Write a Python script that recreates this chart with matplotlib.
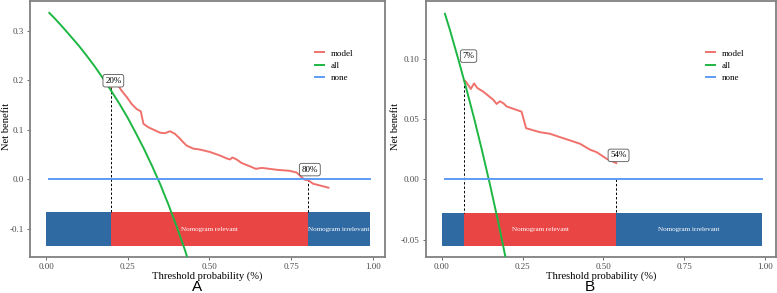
import numpy as np
import matplotlib
matplotlib.use("Agg")
import matplotlib.pyplot as plt
from matplotlib.patches import Rectangle

plt.rcParams['font.family'] = ['Liberation Serif', 'DejaVu Serif']

# ---- panel A data ----
a_all_x = [0.01, 0.025, 0.05, 0.075, 0.10, 0.125, 0.15, 0.175, 0.20, 0.225, 0.25,
           0.275, 0.30, 0.325, 0.35, 0.375, 0.40, 0.425, 0.45]
a_all_y = [0.336, 0.326, 0.308, 0.289, 0.270, 0.249, 0.227, 0.203, 0.178, 0.152, 0.124,
           0.093, 0.061, 0.026, -0.011, -0.052, -0.096, -0.143, -0.195]
a_model_x = [0.200, 0.206, 0.221, 0.231, 0.247, 0.262, 0.277, 0.290, 0.298, 0.313, 0.339,
             0.349, 0.364, 0.379, 0.394, 0.410, 0.415, 0.430, 0.450, 0.471, 0.502, 0.532,
             0.553, 0.563, 0.570, 0.583, 0.598, 0.624, 0.642, 0.660, 0.708, 0.746, 0.767,
             0.782, 0.792, 0.802, 0.817, 0.864]
a_model_y = [0.186, 0.192, 0.189, 0.179, 0.166, 0.152, 0.142, 0.137, 0.112, 0.105, 0.097,
             0.094, 0.093, 0.097, 0.092, 0.082, 0.078, 0.068, 0.062, 0.060, 0.055, 0.048,
             0.042, 0.040, 0.044, 0.040, 0.033, 0.026, 0.021, 0.023, 0.019, 0.017, 0.0135,
             0.004, -0.001, -0.002, -0.009, -0.017]
a_low, a_high = 0.20, 0.80
a_low_y, a_high_y = 0.186, 0.0
a_labels = ["20%", "80%"]
a_label_pos = [(0.206, 0.199), (0.807, 0.0195)]

# ---- panel B data ----
b_all_x = [0.01, 0.025, 0.05, 0.075, 0.10, 0.125, 0.15, 0.175, 0.20, 0.225]
b_all_y = [0.137, 0.124, 0.1006, 0.0763, 0.0507, 0.0235, -0.0052, -0.0356, -0.068, -0.102]
b_model_x = [0.070, 0.072, 0.077, 0.090, 0.100, 0.110, 0.129, 0.160, 0.170, 0.180, 0.191,
             0.201, 0.247, 0.261, 0.304, 0.335, 0.366, 0.397, 0.428, 0.459, 0.479, 0.510,
             0.526, 0.540]
b_model_y = [0.0815, 0.0816, 0.0800, 0.0748, 0.0794, 0.0756, 0.0725, 0.0657, 0.0624, 0.0646,
             0.0629, 0.0603, 0.0560, 0.0423, 0.0390, 0.0377, 0.0349, 0.0322, 0.0294, 0.0245,
             0.0225, 0.0170, 0.0151, 0.0134]
b_low, b_high = 0.07, 0.54
b_low_y, b_high_y = 0.0815, 0.0
b_labels = ["7%", "54%"]
b_label_pos = [(0.083, 0.102), (0.547, 0.0198)]

none_x = [0.01, 0.99]
none_y = [0.0, 0.0]

C_MODEL = '#F0716C'
C_ALL = '#1DB743'
C_NONE = '#5D9BF5'
C_BLUE = '#2F6AA3'
C_RED = '#EA4545'
C_FRAME = '#808080'


def panel(ax, all_x, all_y, mx, my, low, high, low_y, high_y, labels, lpos,
          band, xlim, ylim, yticks, yfmt, leg_x, ylab_x):
    b0, b1 = band
    ax.add_patch(Rectangle((0, b0), 0.99, b1 - b0, color=C_BLUE, lw=0, zorder=1))
    ax.add_patch(Rectangle((low, b0), high - low, b1 - b0, color=C_RED, lw=0, zorder=1.1))
    mid = (b0 + b1) / 2
    ax.text((low + high) / 2, mid, "Nomogram relevant", color='white', fontsize=5.1,
            ha='center', va='center', zorder=2)
    ax.text((high + 0.99) / 2, mid, "Nomogram irrelevant", color='white', fontsize=5.1,
            ha='center', va='center', zorder=2)

    ax.plot(mx, my, color=C_MODEL, lw=1.4, label='model', zorder=3)
    ax.plot(all_x, all_y, color=C_ALL, lw=1.4, label='all', zorder=3)
    ax.plot(none_x, none_y, color=C_NONE, lw=1.4, label='none', zorder=3)

    ax.plot([low, low], [low_y, b1], color='black', ls=(0, (2.5, 2)), lw=0.7, zorder=2.5)
    ax.plot([high, high], [high_y, b1], color='black', ls=(0, (2.5, 2)), lw=0.7, zorder=2.5)

    for t, (lx, ly) in zip(labels, lpos):
        ax.text(lx, ly, t, fontsize=6.5, ha='center', va='center', zorder=5,
                bbox=dict(boxstyle='round,pad=0.25,rounding_size=0.25', fc='white',
                          ec='#555555', lw=0.6))

    ax.set_xlim(*xlim)
    ax.set_ylim(*ylim)
    ax.set_xticks([0, 0.25, 0.5, 0.75, 1.0])
    ax.set_xticklabels(["0.00", "0.25", "0.50", "0.75", "1.00"])
    ax.set_yticks(yticks)
    ax.set_yticklabels([yfmt.format(v) for v in yticks])
    ax.tick_params(labelsize=6.5, labelcolor='#4D4D4D', color='#555555', length=2.5,
                   width=0.6, pad=2)
    for s in ax.spines.values():
        s.set_color(C_FRAME)
        s.set_linewidth(1.3)
    ax.set_xlabel("Threshold probability (%)", fontsize=7.6)
    ax.xaxis.set_label_coords(0.5, -19 / 256, transform=ax.transAxes)
    ax.set_ylabel("Net benefit", fontsize=7.6)
    ax.yaxis.set_label_coords(ylab_x, 0.51, transform=ax.transAxes)
    ax.xaxis.label.set_va('center')
    ax.yaxis.label.set_va('center')
    ax.legend(loc='center left', bbox_to_anchor=(leg_x, 0.747), frameon=False,
              fontsize=6.5, handlelength=0.95, handletextpad=0.8, labelspacing=0.45,
              borderpad=0, borderaxespad=0)


fig = plt.figure(figsize=(7.77, 2.93), dpi=100)
W, H = 777, 293
axA = fig.add_axes([30 / W, (H - 257) / H, 355 / W, 256 / H])
axB = fig.add_axes([426 / W, (H - 257) / H, 350 / W, 256 / H])

panel(axA, a_all_x, a_all_y, a_model_x, a_model_y, a_low, a_high, a_low_y, a_high_y,
      a_labels, a_label_pos, (-0.134, -0.067), (-0.049, 1.037), (-0.157, 0.360),
      [-0.1, 0.0, 0.1, 0.2, 0.3], "{:.1f}", 0.803, (6 - 30) / 355)
panel(axB, b_all_x, b_all_y, b_model_x, b_model_y, b_low, b_high, b_low_y, b_high_y,
      b_labels, b_label_pos, (-0.055, -0.0275), (-0.0486, 1.034), (-0.0643, 0.1476),
      [-0.05, 0.0, 0.05, 0.10], "{:.2f}", 0.80, (396 - 426) / 350)

fig.text(196.7 / W, 1 - 287 / H, "A", fontsize=11, family='Liberation Sans',
         ha='center', va='center')
fig.text(590 / W, 1 - 287 / H, "B", fontsize=11, family='Liberation Sans',
         ha='center', va='center')

fig.savefig("out.png", dpi=100)
